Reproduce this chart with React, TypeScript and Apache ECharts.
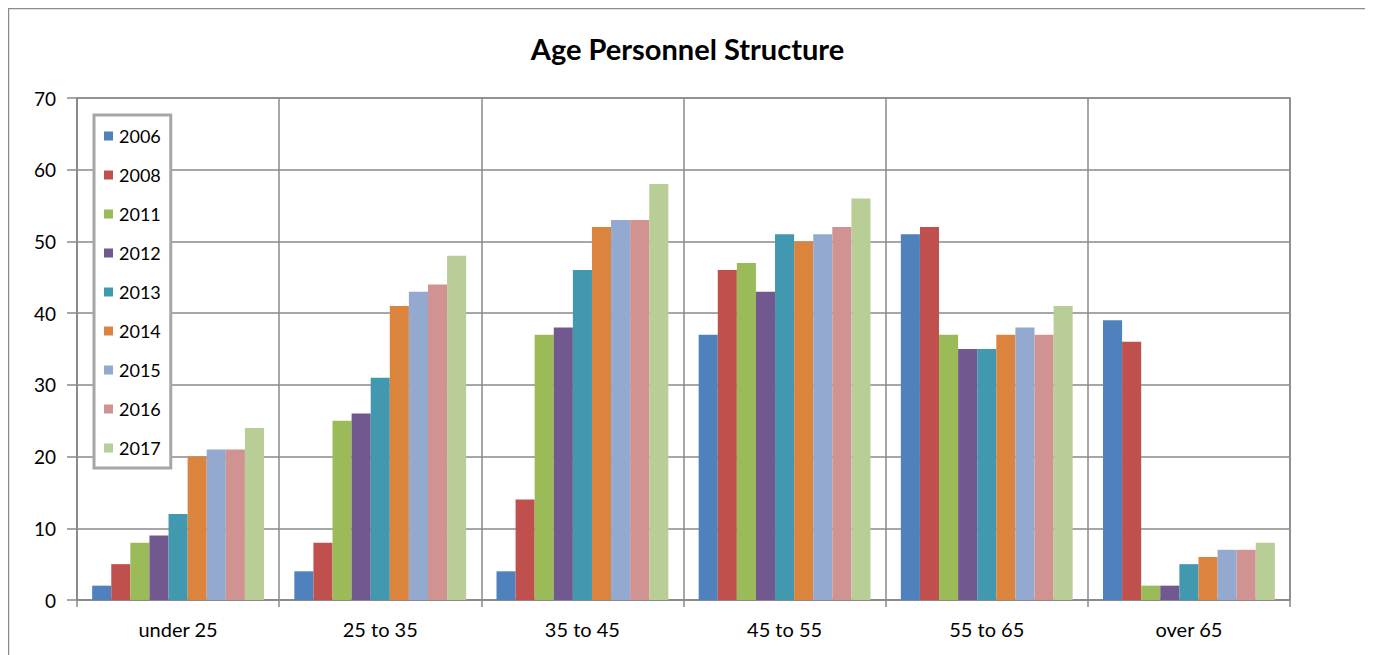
import React, { useEffect, useRef } from "react";
import * as echarts from "echarts";

const categories = ["under 25", "25 to 35", "35 to 45", "45 to 55", "55 to 65", "over 65"];
const years = ["2006", "2008", "2011", "2012", "2013", "2014", "2015", "2016", "2017"];
const v2006 = [2, 4, 4, 37, 51, 39];
const v2008 = [5, 8, 14, 46, 52, 36];
const v2011 = [8, 25, 37, 47, 37, 2];
const v2012 = [9, 26, 38, 43, 35, 2];
const v2013 = [12, 31, 46, 51, 35, 5];
const v2014 = [20, 41, 52, 50, 37, 6];
const v2015 = [21, 43, 53, 51, 38, 7];
const v2016 = [21, 44, 53, 52, 37, 7];
const v2017 = [24, 48, 58, 56, 41, 8];
const seriesValues = [v2006, v2008, v2011, v2012, v2013, v2014, v2015, v2016, v2017];
const colors = ["#4F81BD", "#C0504D", "#9BBB59", "#71588F", "#4198AF", "#DB843D", "#93A9CF", "#D19392", "#B9CD96"];

const FONT = "Lato, 'Open Sans', sans-serif";
const GRID = "#8a8a8a";
const W = 1359;
const H = 647;

export default function App() {
  const ref = useRef<HTMLDivElement>(null);
  useEffect(() => {
    if (!ref.current) return;
    const chart = echarts.init(ref.current, undefined, { renderer: "svg" });
    chart.setOption({
      animation: false,
      backgroundColor: "#ffffff",
      graphic: [
        {
          type: "rect",
          silent: true,
          z: -10,
          shape: { x: 0.5, y: 0.5, width: W - 1, height: H + 20 },
          style: { fill: "none", stroke: "#8c8c8c", lineWidth: 1.5 },
        },
      ],
      title: {
        text: "Age Personnel Structure",
        left: "center",
        top: 21,
        textStyle: { fontFamily: FONT, fontSize: 29, fontWeight: "bold", color: "#000" },
      },
      legend: {
        orient: "vertical",
        left: 86,
        top: 107,
        data: years,
        icon: "rect",
        itemWidth: 9,
        itemHeight: 9,
        itemGap: 21,
        padding: [12, 10, 11, 10],
        borderColor: "#a6a6a6",
        borderWidth: 3,
        backgroundColor: "#fff",
        textStyle: { fontFamily: FONT, fontSize: 18, color: "#000", padding: [0, 0, 0, 1] },
      },
      grid: {
        left: 69,
        right: 77,
        top: 90,
        height: 502,
        show: true,
        borderColor: GRID,
        borderWidth: 1.5,
      },
      xAxis: {
        type: "category",
        data: categories,
        axisLine: { lineStyle: { color: GRID, width: 1.5 } },
        axisTick: { show: true, length: 7, lineStyle: { color: GRID, width: 1.5 } },
        splitLine: { show: true, interval: 0, lineStyle: { color: GRID, width: 1.5 } },
        axisLabel: { fontFamily: FONT, fontSize: 20, color: "#000", margin: 19 },
      },
      yAxis: {
        type: "value",
        min: 0,
        max: 70,
        interval: 10,
        axisLine: { show: true, lineStyle: { color: GRID, width: 1.5 } },
        axisTick: { show: true, length: 10, lineStyle: { color: GRID, width: 1.5 } },
        splitLine: { show: true, lineStyle: { color: GRID, width: 1.5 } },
        axisLabel: { fontFamily: FONT, fontSize: 19, color: "#000", margin: 21 },
      },
      series: years.map((y, i) => ({
        name: y,
        type: "bar",
        data: seriesValues[i],
        barGap: "0%",
        barCategoryGap: "15%",
        itemStyle: { color: colors[i] },
      })),
    });
    return () => chart.dispose();
  }, []);
  return <div ref={ref} style={{ width: W, height: H }} />;
}
